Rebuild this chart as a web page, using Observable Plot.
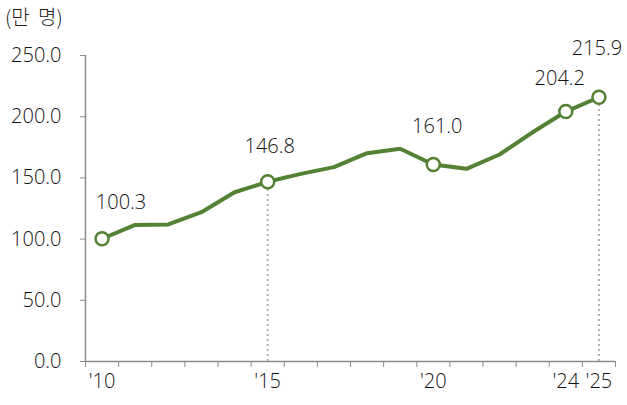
<!DOCTYPE html>
<html>
<head>
<meta charset="utf-8">
<script src="https://cdn.jsdelivr.net/npm/d3@7"></script>
<script src="https://cdn.jsdelivr.net/npm/@observablehq/plot@0.6"></script>
<style>
  body { margin: 0; background: #fff; }
  #title { height: 30px; font-family: "Noto Sans CJK KR", "Noto Sans", sans-serif; font-size: 20px; font-weight: 300; color: #222; padding-left: 5px; line-height: 34px; word-spacing: 4px; }
  svg { display: block; font-family: "Open Sans", sans-serif; font-weight: 300; }
</style>
</head>
<body>
<div id="title">(만 명)</div>
<div id="chart"></div>
<script>
const years = [2010, 2011, 2012, 2013, 2014, 2015, 2016, 2017, 2018, 2019, 2020, 2021, 2022, 2023, 2024, 2025];
const values = [100.3, 111.6, 112.0, 122.0, 138.3, 146.8, 153.3, 158.8, 170.2, 173.8, 161.0, 157.4, 169.1, 187.3, 204.2, 215.9];
const labeledYears = [2010, 2015, 2020, 2024, 2025];
const xTickYears = [2010, 2015, 2020, 2024, 2025];
const dropLineYears = [2015, 2025];
const yTicks = [0, 50, 100, 150, 200, 250];

const data = years.map((y, i) => ({year: y, value: values[i]}));
const labeled = data.filter(d => labeledYears.includes(d.year));
const drops = data.filter(d => dropLineYears.includes(d.year));
const bandEdges = d3.range(years[0] - 0.5, years[years.length - 1] + 1, 1);

const green = "#548235";
const axisGrey = "#8c8c8c";

// label offset styling (kept separate from data)
const labelStyle = {2010: {dx: 19, dy: -36}, 2015: {dx: 2, dy: -35}, 2020: {dx: 4, dy: -38}, 2024: {dx: -6, dy: -33}, 2025: {dx: -2, dy: -49}};

const chart = Plot.plot({
  width: 627,
  height: 375,
  marginLeft: 85,
  marginRight: 12,
  marginTop: 25,
  marginBottom: 44,
  style: {fontSize: "20px", fontFamily: "'Open Sans', sans-serif", fontWeight: 300, color: "#222"},
  x: {type: "linear", domain: [years[0] - 0.5, years[years.length - 1] + 0.5]},
  y: {domain: [0, 250]},
  marks: [
    Plot.ruleX(drops, {x: "year", y1: 0, y2: "value", stroke: "#b0b0b0", strokeWidth: 2, strokeDasharray: "2,3"}),
    Plot.ruleY([0], {stroke: axisGrey, strokeWidth: 1.5}),
    Plot.ruleX([years[0] - 0.5], {y1: 0, y2: 250, stroke: axisGrey, strokeWidth: 1.5}),
    Plot.axisY({ticks: yTicks, tickFormat: d => d.toFixed(1), tickSize: 5, tickPadding: 19, stroke: axisGrey, fill: "#111", label: null, fontSize: 20}),
    Plot.axisX({ticks: bandEdges, tickFormat: () => "", tickSize: 6, stroke: axisGrey, label: null}),
    Plot.axisX({ticks: xTickYears, tickFormat: d => "'" + String(d).slice(2), tickSize: 0, tickPadding: 12, fill: "#111", label: null, fontSize: 20}),
    Plot.line(data, {x: "year", y: "value", stroke: green, strokeWidth: 4, strokeLinejoin: "round"}),
    Plot.dot(labeled, {x: "year", y: "value", r: 6.5, fill: "white", stroke: green, strokeWidth: 2.5}),
    ...labeled.map(d => Plot.text([d], {x: "year", y: "value", text: v => v.value.toFixed(1), dx: labelStyle[d.year].dx, dy: labelStyle[d.year].dy, fill: "#111", fontSize: 20}))
  ]
});
document.getElementById("chart").appendChild(chart);
</script>
</body>
</html>
